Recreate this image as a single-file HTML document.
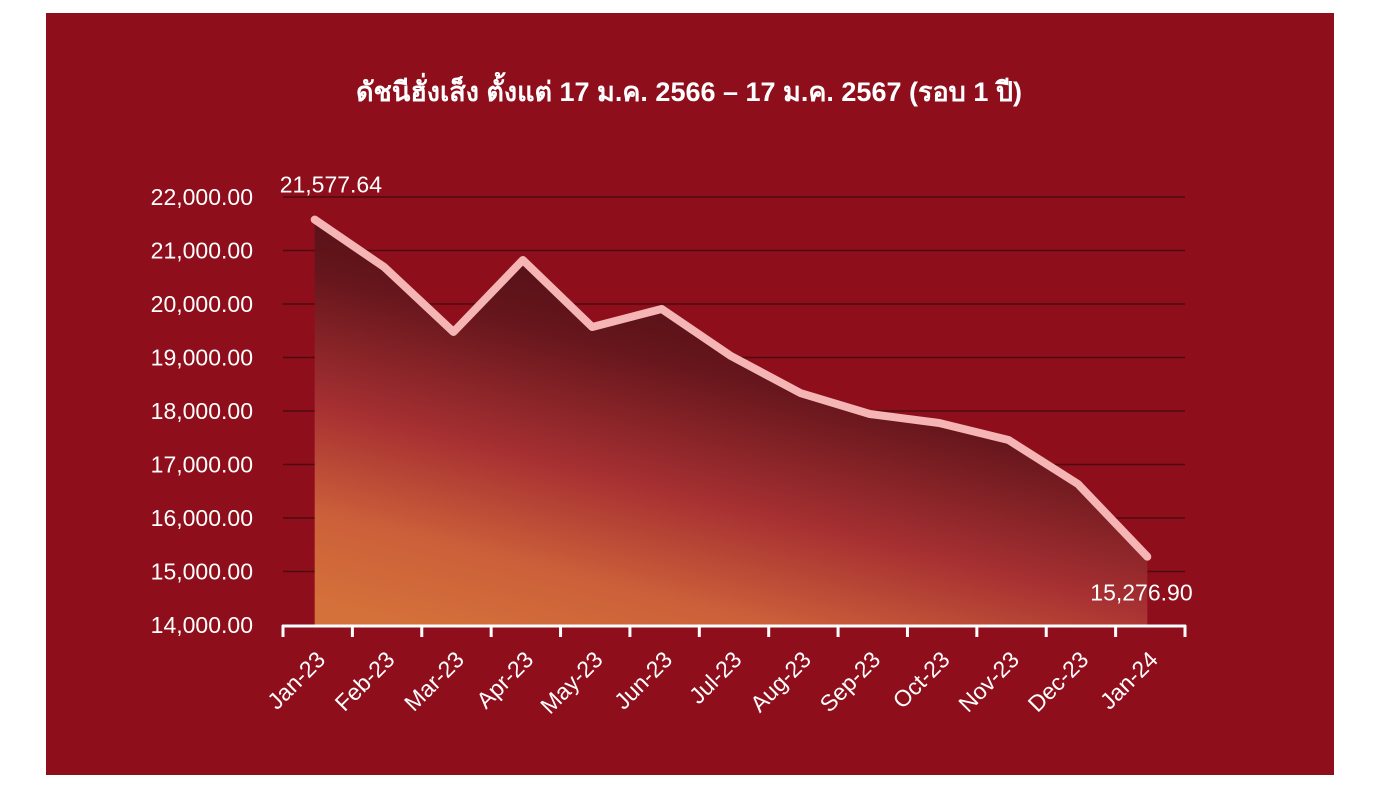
<!DOCTYPE html>
<html><head><meta charset="utf-8"><style>
html,body{margin:0;padding:0;background:#fff;}
body{width:1378px;height:787px;position:relative;overflow:hidden;font-family:"Liberation Sans",sans-serif;}
#panel{position:absolute;left:46px;top:13px;width:1288px;height:762px;background:#8f0e1c;}
</style></head><body>
<div id="panel"></div>
<svg id="chart" width="1378" height="787" style="position:absolute;left:0;top:0">
<defs>
<linearGradient id="fillg" x1="560" y1="660" x2="660" y2="250" gradientUnits="userSpaceOnUse">
<stop offset="0" stop-color="#d4703a"/>
<stop offset="0.2" stop-color="#cc603a"/>
<stop offset="0.45" stop-color="#a63032"/>
<stop offset="0.75" stop-color="#66161c"/>
<stop offset="1" stop-color="#4c0e14"/>
</linearGradient>
</defs>
<text x="689" y="101" text-anchor="middle" fill="#fff" font-size="27" font-weight="bold" font-family="'Liberation Sans','DejaVu Sans',sans-serif">ดัชนีฮั่งเส็ง ตั้งแต่ 17 ม.ค. 2566 – 17 ม.ค. 2567 (รอบ 1 ปี)</text>
<g id="grid"></g><g id="area"></g><g id="axes"></g><g id="marks"></g>
</svg>
<script>
const categories=["Jan-23","Feb-23","Mar-23","Apr-23","May-23","Jun-23","Jul-23","Aug-23","Sep-23","Oct-23","Nov-23","Dec-23","Jan-24"];
const values=[21577.64,20692,19477,20822,19570,19907,19028,18336,17944,17776,17458,16636,15276.90];
const yTicks=[14000,15000,16000,17000,18000,19000,20000,21000,22000];
const yTickLabels=["14,000.00","15,000.00","16,000.00","17,000.00","18,000.00","19,000.00","20,000.00","21,000.00","22,000.00"];
const endLabels=["21,577.64","15,276.90"];
const NS="http://www.w3.org/2000/svg";
const X0=283,X1=1185,Y0=625,Y1=197,YMIN=14000,YMAX=22000;
const band=(X1-X0)/categories.length;
function x(i){return X0+band*(i+0.5)-3;}
function y(v){return Y0-(v-YMIN)/(YMAX-YMIN)*(Y0-Y1);}
function mk(t,a,p){const e=document.createElementNS(NS,t);for(const k in a)e.setAttribute(k,a[k]);document.getElementById(p).appendChild(e);return e;}
yTicks.forEach((v,i)=>{
 if(i>0){const l=mk('line',{x1:X0,x2:X1,y1:y(v),y2:y(v),stroke:'#4e0a10','stroke-width':1.5},'grid');
 
 }
 const t=mk('text',{x:253,y:y(v)+8,'text-anchor':'end',fill:'#fff','font-size':23},'axes');
 t.textContent=yTickLabels[i];
 
 
});
let d=`M${x(0)},${Y0}`;values.forEach((v,i)=>d+=`L${x(i)},${y(v)}`);d+=`L${x(values.length-1)},${Y0}Z`;
const ar=mk('path',{d:d,fill:'url(#fillg)'},'area');


const ax=mk('line',{x1:X0-1,x2:X1+1,y1:Y0+1,y2:Y0+1,stroke:'#fff','stroke-width':3},'axes');


for(let i=0;i<=categories.length;i++){
 const tk=mk('line',{x1:X0+band*i,x2:X0+band*i,y1:Y0,y2:Y0+12,stroke:'#fff','stroke-width':3},'axes');
 
 
}
categories.forEach((c,i)=>{
 const tx=x(i)+12,ty=Y0+36;
 const t=mk('text',{x:tx,y:ty,'text-anchor':'end',fill:'#fff','font-size':23,transform:`rotate(-45 ${tx} ${ty})`},'axes');
 t.textContent=c;
 
 
});
let pts=values.map((v,i)=>`${x(i)},${y(v)}`).join(' ');
const ln=mk('polyline',{points:pts,fill:'none',stroke:'#f6b5b5','stroke-width':8,'stroke-linejoin':'round','stroke-linecap':'round'},'marks');


const l1=mk('text',{x:x(0)-35,y:y(values[0])-27,fill:'#fff','font-size':23},'marks');
l1.textContent=endLabels[0];


const n=values.length-1;
const l2=mk('text',{x:x(n)-57,y:y(values[n])+44,fill:'#fff','font-size':23},'marks');
l2.textContent=endLabels[1];


</script>
</body></html>
